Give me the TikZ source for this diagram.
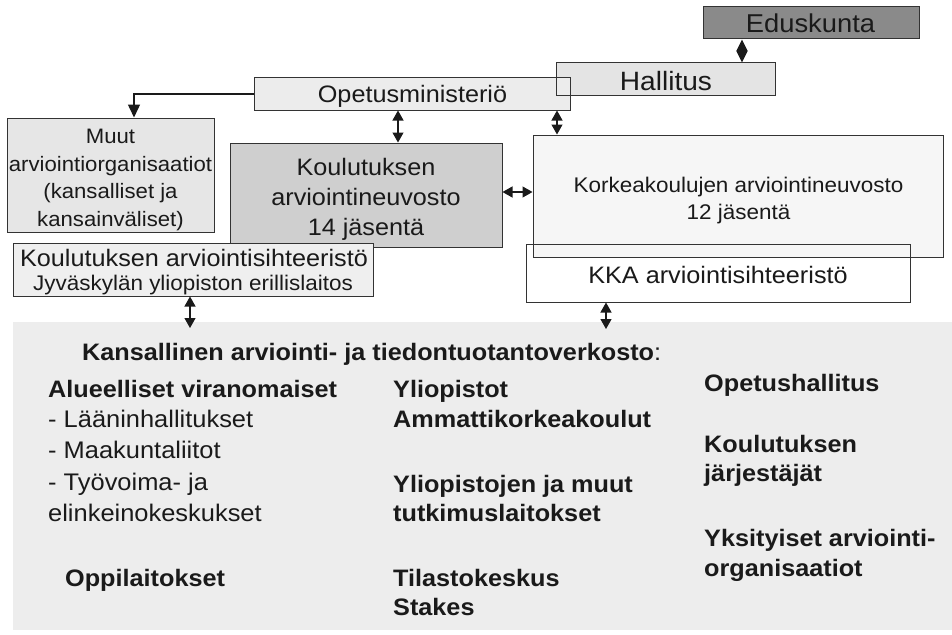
\documentclass[tikz,border=0pt]{standalone}
\usepackage{fontspec}
\setmainfont{Liberation Sans}[FakeStretch=1.06]
\usetikzlibrary{arrows.meta}
\definecolor{edfill}{HTML}{8A8A8A}
\definecolor{hallfill}{HTML}{E4E4E4}
\definecolor{opmfill}{HTML}{ECECEC}
\definecolor{muutfill}{HTML}{E6E6E6}
\definecolor{kanfill}{HTML}{CFCFCF}
\definecolor{korfill}{HTML}{F6F6F6}
\definecolor{ksfill}{HTML}{EFEFEF}
\definecolor{netfill}{HTML}{EDEDED}
\definecolor{ink}{HTML}{1A1A1A}
\definecolor{edge}{HTML}{333333}
\newcommand\myfs[2]{\fontsize{#1}{#2}\selectfont}
\begin{document}
\begin{tikzpicture}[x=1pt,y=-1pt,
  box/.style={draw=edge, line width=1pt, inner sep=0pt},
  outline/.style={draw=edge, line width=1pt},
  lbl/.style={anchor=base, inner sep=0pt, text=ink},
  dbl/.style={{Triangle[length=10pt,width=11pt]}-{Triangle[length=10pt,width=11pt]}, line width=1.2pt, draw=ink},
  dia/.style={{Triangle[length=11.5pt,width=11pt]}-{Triangle[length=11.5pt,width=11pt]}, line width=1.2pt, draw=ink},
  onearrow/.style={-{Triangle[length=13pt,width=12pt]}, line width=1.5pt, draw=ink},
  nb/.style={anchor=base west, inner sep=0pt, text=ink, font=\bfseries\myfs{23.8}{28}},
  nr/.style={anchor=base west, inner sep=0pt, text=ink, font=\myfs{24}{28}}]
\useasboundingbox (0,0) rectangle (952,634);

% bottom network region
\node[fill=netfill, inner sep=0pt, minimum width=939pt, minimum height=308pt] (net) at (482.5,476) {};

% boxes
\node[box, fill=edfill, minimum width=216pt, minimum height=32pt] (edus) at (811,23) {};
\node[box, draw=none, fill=hallfill, minimum width=218pt, minimum height=32pt] (hall) at (666,79) {};
\node[box, fill=opmfill, minimum width=316pt, minimum height=33pt] (opm) at (412,93.5) {};
\draw[outline] (hall.south west) rectangle (hall.north east);
\node[box, fill=muutfill, minimum width=207pt, minimum height=114pt] (muut) at (110.5,175) {};
\node[box, fill=kanfill, minimum width=272pt, minimum height=104pt] (kan) at (366,195) {};
\node[box, fill=korfill, minimum width=410pt, minimum height=122pt] (kor) at (738,196) {};
\node[box, minimum width=384pt, minimum height=58pt] (kka) at (718,273) {};
\node[box, fill=ksfill, minimum width=360pt, minimum height=53pt] (ks) at (193,269.5) {};

% box texts
\node[lbl, font=\myfs{25.8}{30}] (edusT) at (810.5,33) {Eduskunta};
\node[lbl, font=\myfs{26.5}{30}] (hallT) at (666,90) {Hallitus};
\node[lbl, font=\myfs{23.8}{28}] (opmT) at (412.5,102.5) {Opetusministeriö};
\node[lbl, font=\myfs{20.9}{26}] (muutT1) at (110.5,143.5) {Muut};
\node[lbl, font=\myfs{20.9}{26}] (muutT2) at (110.5,171) {arviointiorganisaatiot};
\node[lbl, font=\myfs{20.9}{26}] (muutT3) at (110.5,198.5) {(kansalliset ja};
\node[lbl, font=\myfs{20.9}{26}] (muutT4) at (110.5,226) {kansainväliset)};
\node[lbl, font=\myfs{23.8}{28}] (kanT1) at (366,175) {Koulutuksen};
\node[lbl, font=\myfs{23.8}{28}] (kanT2) at (366,205) {arviointineuvosto};
\node[lbl, font=\myfs{23.8}{28}] (kanT3) at (366,235) {14 jäsentä};
\node[lbl, font=\myfs{21.2}{26}] (korT1) at (738.5,192.5) {Korkeakoulujen arviointineuvosto};
\node[lbl, font=\myfs{21.2}{26}] (korT2) at (738.5,219.5) {12 jäsentä};
\node[lbl, font=\myfs{23.8}{28}] (kkaT) at (718,283) {KKA arviointisihteeristö};
\node[lbl, font=\myfs{23.8}{28}] (ksT1) at (194,266) {Koulutuksen arviointisihteeristö};
\node[lbl, font=\myfs{21.2}{26}] (ksT2) at (193,290) {Jyväskylän yliopiston erillislaitos};

% connectors
\coordinate (c1) at (190,328);
\coordinate (c2) at (606,329);
\draw[dia] (edus.south -| 742,0) -- (hall.north -| 742,0);
\draw[onearrow] (opm.west |- 0,94) -| (muut.north -| 134,0);
\draw[dbl] (opm.south -| 398,0) -- (kan.north -| 398,0);
\draw[dbl] (opm.south -| 557,0) -- (kor.north -| 557,0);
\draw[dbl] (kan.east |- 0,192) -- (kor.west |- 0,192);
\draw[dbl] (ks.south -| 190,0) -- (c1);
\draw[dbl] (kka.south -| 606,0) -- (c2);

% network texts
\node[anchor=base west, inner sep=0pt, text=ink, font=\myfs{23.8}{28}] (title) at (82,360.5)
  {\bfseries Kansallinen arviointi- ja tiedontuotantoverkosto\mdseries:};

\node[nb] (a1) at (48,397.5) {Alueelliset viranomaiset};
\node[nr] (a2) at (48,427.5) {- Lääninhallitukset};
\node[nr] (a3) at (48,458) {- Maakuntaliitot};
\node[nr] (a4) at (48,490) {- Työvoima- ja};
\node[nr] (a5) at (48,521) {elinkeinokeskukset};
\node[nb] (a6) at (65,586) {Oppilaitokset};

\node[nb] (b1) at (393,397.5) {Yliopistot};
\node[nb] (b2) at (393,427.5) {Ammattikorkeakoulut};
\node[nb] (b3) at (393,492) {Yliopistojen ja muut};
\node[nb] (b4) at (393,521) {tutkimuslaitokset};
\node[nb] (b5) at (393,586) {Tilastokeskus};
\node[nb] (b6) at (393,615) {Stakes};

\node[nb] (d1) at (704,391.5) {Opetushallitus};
\node[nb] (d2) at (704,452) {Koulutuksen};
\node[nb] (d3) at (704,481) {järjestäjät};
\node[nb] (d4) at (704,546) {Yksityiset arviointi-};
\node[nb] (d5) at (704,576) {organisaatiot};
\end{tikzpicture}
\end{document}
